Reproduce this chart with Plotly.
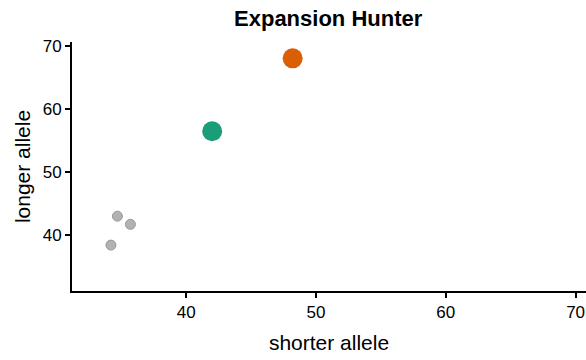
import plotly.graph_objects as go

# Allele length calls (repeat units)
other_short = [34.7, 35.7, 34.2]
other_long = [43.0, 41.7, 38.4]
green_short = [42.0]
green_long = [56.5]
orange_short = [48.2]
orange_long = [68.1]

tick_vals = [40, 50, 60, 70]

fig = go.Figure()
fig.add_trace(go.Scatter(
    x=other_short, y=other_long, mode="markers",
    marker=dict(size=10, color="rgba(165,165,165,0.85)",
                line=dict(color="rgba(145,145,145,0.9)", width=1)),
    showlegend=False))
fig.add_trace(go.Scatter(
    x=green_short, y=green_long, mode="markers",
    marker=dict(size=20, color="#1B9E77", line=dict(width=0)),
    showlegend=False))
fig.add_trace(go.Scatter(
    x=orange_short, y=orange_long, mode="markers",
    marker=dict(size=20, color="#D95F02", line=dict(width=0)),
    showlegend=False))

axis_common = dict(
    showgrid=False, zeroline=False, showline=True, linecolor="black",
    linewidth=2, ticks="outside", ticklen=5, tickwidth=2, tickcolor="black",
    tickvals=tick_vals, tickfont=dict(size=17, color="black"),
)

fig.update_layout(
    width=586, height=360,
    margin=dict(l=72, r=0, t=42, b=69),
    paper_bgcolor="white", plot_bgcolor="white",
    font=dict(family="Liberation Sans, Arial, sans-serif", color="black"),
    title=dict(text="<b>Expansion Hunter</b>", x=0.56, xanchor="center",
               y=0.95, yanchor="middle", font=dict(size=22, color="black")),
    xaxis=dict(range=[31.2, 70.8],
               title=dict(text="shorter allele", font=dict(size=21), standoff=14),
               **axis_common),
    yaxis=dict(range=[31.1, 70.7],
               title=dict(text="longer allele", font=dict(size=21), standoff=6),
               **axis_common),
)

fig.write_html("out.html")
